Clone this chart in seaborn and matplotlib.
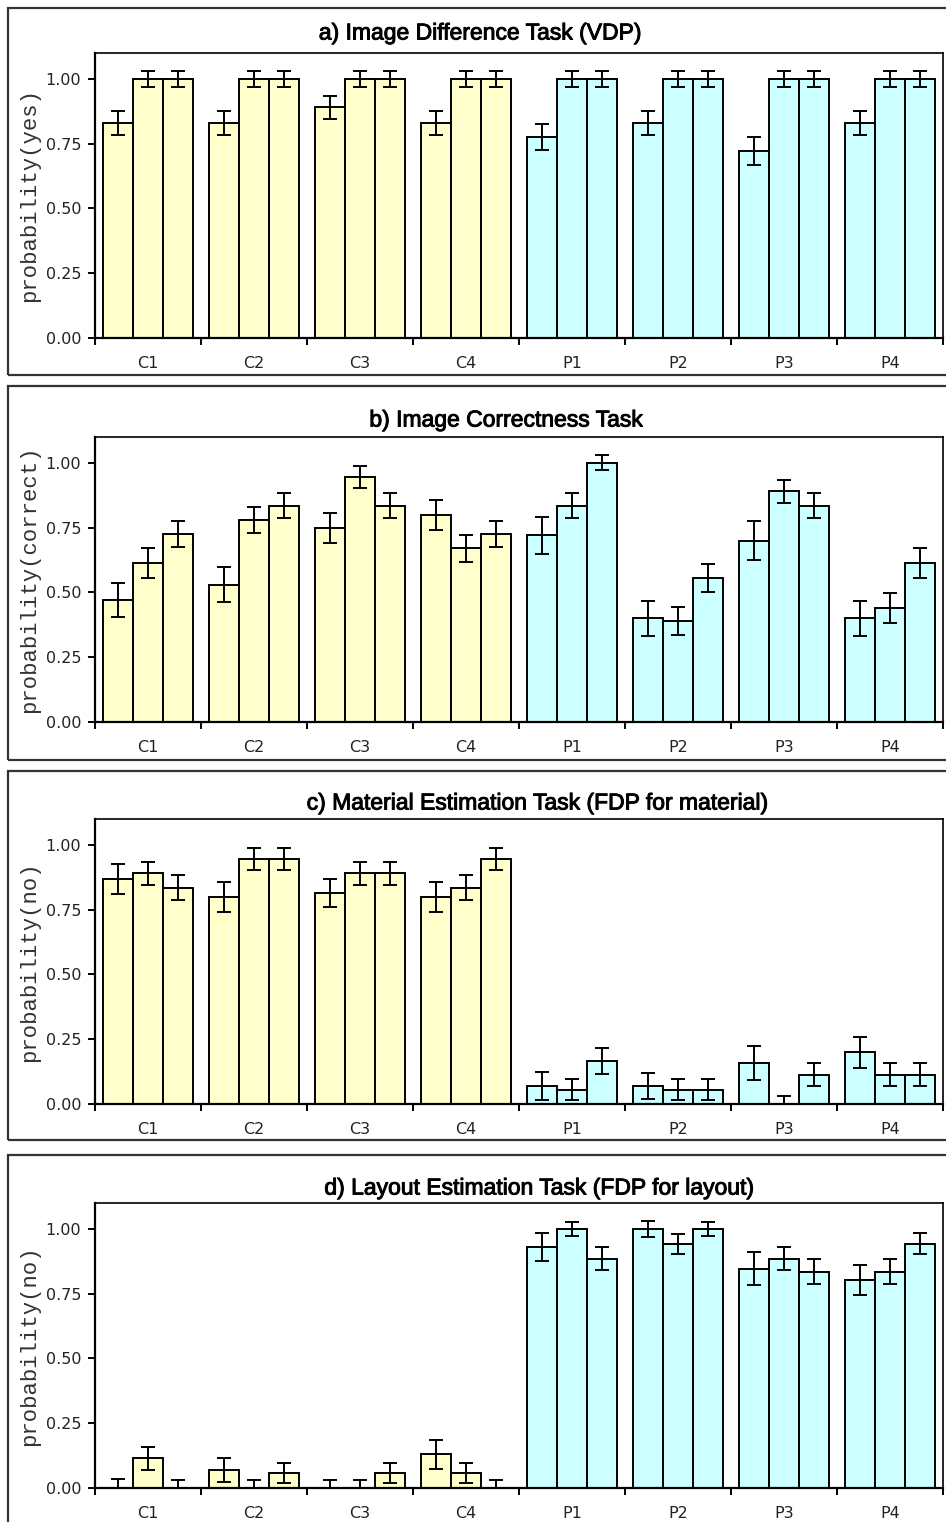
import numpy as np
import pandas as pd
import matplotlib
matplotlib.use("Agg")
import matplotlib.pyplot as plt
import matplotlib.patheffects as pe
import seaborn as sns
from matplotlib.patches import Rectangle

# ---------------- data ----------------
groups = ["C1", "C2", "C3", "C4", "P1", "P2", "P3", "P4"]
levels = ["L1", "L2", "L3"]

titles = [
    "a) Image Difference Task (VDP)",
    "b) Image Correctness Task",
    "c) Material Estimation Task (FDP for material)",
    "d) Layout Estimation Task (FDP for layout)",
]
ylabels = ["probability(yes)", "probability(correct)", "probability(no)", "probability(no)"]
yticks = [0.0, 0.25, 0.5, 0.75, 1.0]
ytick_labels = ["0.00", "0.25", "0.50", "0.75", "1.00"]

a_vals = [0.83, 1.0, 1.0, 0.83, 1.0, 1.0, 0.89, 1.0, 1.0, 0.83, 1.0, 1.0,
          0.775, 1.0, 1.0, 0.83, 1.0, 1.0, 0.72, 1.0, 1.0, 0.83, 1.0, 1.0]
a_err = [0.047, 0.03, 0.03, 0.047, 0.03, 0.03, 0.045, 0.03, 0.03, 0.047, 0.03, 0.03,
         0.051, 0.03, 0.03, 0.047, 0.03, 0.03, 0.054, 0.03, 0.03, 0.047, 0.03, 0.03]

b_vals = [0.47, 0.615, 0.725, 0.53, 0.78, 0.835, 0.75, 0.945, 0.835, 0.80, 0.67, 0.725,
          0.72, 0.835, 1.0, 0.40, 0.39, 0.555, 0.70, 0.89, 0.835, 0.40, 0.44, 0.615]
b_err = [0.065, 0.058, 0.05, 0.068, 0.05, 0.048, 0.058, 0.043, 0.048, 0.058, 0.052, 0.05,
         0.07, 0.048, 0.029, 0.067, 0.055, 0.055, 0.074, 0.045, 0.048, 0.067, 0.058, 0.058]

c_vals = [0.87, 0.89, 0.835, 0.80, 0.945, 0.945, 0.815, 0.89, 0.89, 0.80, 0.835, 0.945,
          0.07, 0.055, 0.165, 0.07, 0.055, 0.055, 0.158, 0.0, 0.113, 0.20, 0.113, 0.113]
c_err = [0.058, 0.045, 0.048, 0.058, 0.042, 0.042, 0.055, 0.045, 0.045, 0.058, 0.048, 0.042,
         0.054, 0.04, 0.05, 0.05, 0.04, 0.04, 0.065, 0.03, 0.045, 0.06, 0.045, 0.045]

d_vals = [0.0, 0.115, 0.0, 0.07, 0.0, 0.057, 0.0, 0.0, 0.057, 0.13, 0.057, 0.0,
          0.93, 1.0, 0.885, 1.0, 0.942, 1.0, 0.847, 0.885, 0.834, 0.802, 0.834, 0.943]
d_err = [0.036, 0.044, 0.031, 0.047, 0.031, 0.038, 0.031, 0.031, 0.038, 0.057, 0.038, 0.031,
         0.055, 0.027, 0.045, 0.03, 0.04, 0.027, 0.065, 0.045, 0.048, 0.058, 0.048, 0.04]

values = [a_vals, b_vals, c_vals, d_vals]
errors = [a_err, b_err, c_err, d_err]

cream = "#FFFFCC"
cyan = "#CCFFFF"

# ---------------- layout (pixels) ----------------
W, H = 946, 1522
ax_left, ax_right = 95, 943
ax_h = 285
xaxis_y = [338, 722, 1104, 1488]
box_y = [(8, 375), (386, 760), (771, 1140), (1155, 1545)]
title_pos = [(480, 33), (506, 420), (537, 803), (539, 1188)]

sns.set_theme(style="ticks")
plt.rcParams["font.family"] = ["DejaVu Sans"]

fig = plt.figure(figsize=(W / 100, H / 100), dpi=100)
fig.patch.set_facecolor("white")

bar_width = 0.84
for i in range(4):
    ax = fig.add_axes([ax_left / W, 1 - xaxis_y[i] / H, (ax_right - ax_left) / W, ax_h / H])
    df = pd.DataFrame({
        "group": np.repeat(groups, 3),
        "level": levels * len(groups),
        "value": values[i],
        "err": errors[i],
    })
    df["kind"] = df["group"].str[0]
    for kind, col in [("C", cream), ("P", cyan)]:
        sub = df[df["kind"] == kind]
        sns.barplot(data=sub, x="group", y="value", hue="level", order=groups,
                    hue_order=levels, palette=[col] * 3, width=bar_width,
                    saturation=1, edgecolor="black", linewidth=1.4,
                    errorbar=None, legend=False, ax=ax)
    # error bars at the bar centres
    lookup = {(g, l): (v, e) for g, l, v, e in zip(df["group"], df["level"], df["value"], df["err"])}
    xs, ys, es = [], [], []
    step = bar_width / 3
    for p in ax.patches:
        cx = p.get_x() + p.get_width() / 2
        gi = int(round(cx))
        hi = int(round((cx - gi) / step)) + 1
        v, e = lookup[(groups[gi], levels[hi])]
        xs.append(cx); ys.append(v); es.append(e)
    ax.errorbar(xs, ys, yerr=es, fmt="none", ecolor="black", elinewidth=1.4,
                capsize=5, capthick=1.4, zorder=5)

    ax.set_xlim(-0.5, len(groups) - 0.5)
    ax.set_ylim(0, 1.1)
    ax.set_xlabel("")
    ax.set_ylabel(ylabels[i], fontfamily=["Liberation Mono", "DejaVu Sans Mono"],
                  fontsize=16, color="#333333")
    ax.yaxis.set_label_coords((40 - ax_left) / (ax_right - ax_left), 0.5)
    ax.set_yticks(yticks)
    ax.set_yticklabels(ytick_labels)
    ax.set_xticks(range(len(groups)))
    ax.set_xticklabels(groups)
    ax.set_xticks(np.arange(-0.5, len(groups), 1.0), minor=True)
    ax.tick_params(axis="x", which="major", length=0, pad=13, labelsize=11.5,
                   labelcolor="#222222")
    ax.tick_params(axis="x", which="minor", length=5, width=1.4, color="black",
                   direction="out", bottom=True)
    ax.tick_params(axis="y", which="major", length=5, width=1.4, color="black",
                   direction="out", pad=5, labelsize=11.5, labelcolor="#222222", left=True)
    for s in ax.spines.values():
        s.set_color("black")
        s.set_linewidth(1.2)
    ax.spines["bottom"].set_linewidth(1.6)
    ax.spines["left"].set_linewidth(1.6)

    # outer panel frame and title
    y0, y1 = box_y[i]
    fig.patches.append(Rectangle((8 / W, 1 - y1 / H), (960 - 8) / W, (y1 - y0) / H,
                                 transform=fig.transFigure, fill=False,
                                 edgecolor="#333333", linewidth=1.6))
    tx, ty = title_pos[i]
    fig.text(tx / W, 1 - ty / H, titles[i], ha="center", va="center",
             fontsize=16.5, fontfamily=["Liberation Sans", "DejaVu Sans"], color="black",
             path_effects=[pe.withStroke(linewidth=0.7, foreground="black")])

fig.savefig("out.png", dpi=100, facecolor="white")
